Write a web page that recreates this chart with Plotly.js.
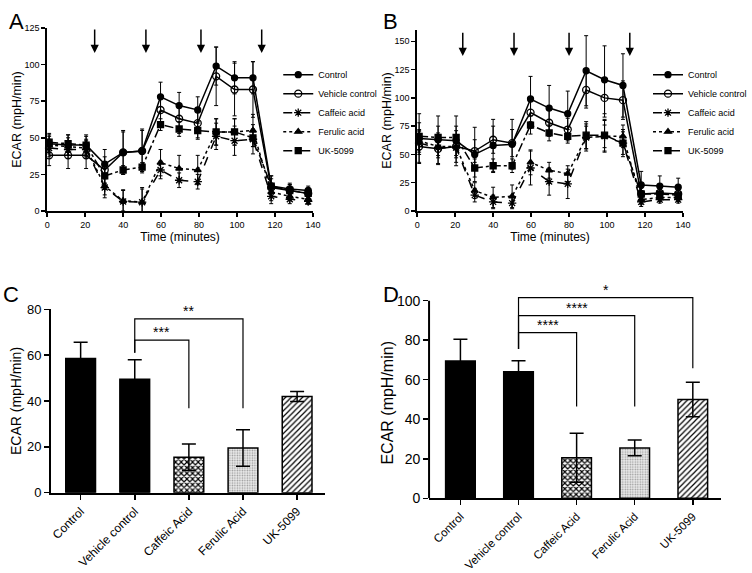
<!DOCTYPE html>
<html><head><meta charset="utf-8">
<script src="https://cdn.plot.ly/plotly-3.0.1.min.js"></script>
<style>html,body{margin:0;padding:0;background:#fff}#chart{width:752px;height:573px}</style>
</head><body><div id="chart"></div>
<script>
// ---------- data ----------
const timeMin = [1, 11, 20.5, 30.3, 40, 50, 59.7, 69.5, 79.3, 89, 98.7, 108.4, 118, 127.8, 137.5];
const seriesNames = ['Control', 'Vehicle control', 'Caffeic acid', 'Ferulic acid', 'UK-5099'];

// Panel A (ECAR, mpH/min)
const aControl    = [46, 45, 45, 32, 40, 41, 78, 72, 69, 99, 91, 91, 17, 15, 14];
const aControlErr = [6, 7, 7, 10, 15, 15, 10, 9, 9, 13, 11, 11, 7, 4, 3];
const aVehicle    = [38, 38, 38, 28, 40, 41, 69, 63, 60, 92, 83, 83, 16, 14, 12];
const aVehicleErr = [7, 9, 9, 9, 14, 14, 10, 10, 10, 20, 18, 19, 6, 4, 3];
const aCaffeic    = [43, 42, 42, 16, 6.5, 6, 28, 21, 20, 51, 48, 49, 10, 8, 6.5];
const aCaffeicErr = [6, 6, 6, 7, 8, 10, 6, 5, 5, 9, 10, 10, 5, 3, 2];
const aFerulic    = [45, 44, 43, 17, 7, 6, 33, 29, 28, 54, 54, 55, 13, 10, 8];
const aFerulicErr = [6, 6, 6, 6, 7, 9, 9, 9, 10, 9, 9, 11, 6, 3, 2];
const aUK         = [47, 46, 45, 24, 28, 30, 59, 56, 55, 54, 54, 50, 17, 14, 12];
const aUKErr      = [6, 6, 6, 5, 3, 3, 4, 5, 6, 9, 9, 6, 7, 4, 3];

// Panel B
const bControl    = [64, 63, 62, 50, 58, 59, 99, 91, 86, 124, 116, 111, 23, 22, 21];
const bControlErr = [22, 21, 22, 24, 23, 22, 20, 20, 20, 31, 30, 28, 12, 9, 8];
const bVehicle    = [57, 55, 57, 53, 63, 60, 87, 78, 72, 107, 100, 98, 15, 16, 15];
const bVehicleErr = [14, 14, 14, 10, 12, 12, 14, 12, 10, 16, 17, 17, 8, 6, 6];
const bCaffeic    = [60, 56, 56, 14, 8, 7, 38, 26, 24, 65, 66, 60, 8, 10, 10];
const bCaffeicErr = [10, 9, 9, 6, 6, 5, 15, 12, 13, 12, 14, 10, 4, 3, 3];
const bFerulic    = [62, 57, 57, 18, 12, 13, 43, 36, 33, 65, 66, 66, 10, 12, 12];
const bFerulicErr = [10, 8, 8, 7, 9, 10, 11, 7, 7, 10, 10, 10, 4, 3, 3];
const bUK         = [66, 65, 65, 38, 40, 40, 76, 69, 66, 67, 67, 60, 15, 15, 14];
const bUKErr      = [12, 10, 10, 8, 6, 6, 8, 7, 6, 12, 14, 12, 5, 4, 4];

// injection arrows
const injTimesA = [25, 52, 81, 113];
const injTimesB = [24, 51, 80, 112];
const arrowA = [125, 108];   // tail, head (y values)
const arrowB = [159, 137];

// Panels C & D (bar charts)
const barCategories = ['Control', 'Vehicle control', 'Caffeic Acid', 'Ferulic Acid', 'UK-5099'];
const cMeans = [58.5, 49.5, 15.5, 19.5, 42];
const cErr   = [7.1, 8.5, 5.8, 8, 2.2];
const dMeans = [69.5, 64, 20.5, 25.5, 50];
const dErr   = [11, 5.6, 12.4, 4.0, 8.7];

// significance brackets
const cBrFrom = [1, 1], cBrTo = [2, 3], cBrLevel = [66.6, 75.8], cBrFromEnd = [61, 61], cBrToEnd = [36.8, 36.8], cBrLabel = ['***', '**'];
const dBrFrom = [1, 1, 1], dBrTo = [2, 3, 4], dBrLevel = [83.8, 92.4, 101.5], dBrFromEnd = [75.5, 75.5, 75.5], dBrToEnd = [46.4, 46.4, 65.8], dBrLabel = ['****', '****', '*'];

// ---------- styles ----------
const FONT = 'Liberation Sans, Arial, sans-serif';
const symbols = ['circle', 'circle-open', 'asterisk-open', 'triangle-up', 'square'];
const dashes = ['solid', 'solid', 'dash', 'dot', 'dashdot'];
const msize = [6, 7, 7, 6, 6];

const aSeries = [[aControl, aControlErr], [aVehicle, aVehicleErr], [aCaffeic, aCaffeicErr], [aFerulic, aFerulicErr], [aUK, aUKErr]];
const bSeries = [[bControl, bControlErr], [bVehicle, bVehicleErr], [bCaffeic, bCaffeicErr], [bFerulic, bFerulicErr], [bUK, bUKErr]];

const traces = [];
function addLines(series, xa, ya, legendId) {
  series.forEach((s, i) => {
    traces.push({
      type: 'scatter', mode: 'lines+markers', x: timeMin, y: s[0],
      xaxis: xa, yaxis: ya, name: seriesNames[i], legend: legendId,
      line: {color: 'black', width: 1.5, dash: dashes[i]},
      marker: {symbol: symbols[i], size: msize[i], color: 'black', line: {color: 'black', width: 1.3}},
      error_y: {type: 'data', array: s[1], visible: true, color: 'black', thickness: 1, width: 2},
      cliponaxis: false
    });
  });
}
addLines(aSeries, 'x', 'y', 'legend');
addLines(bSeries, 'x2', 'y2', 'legend2');

// bar fill styles (per category)
const barFill = ['black', 'black', 'white', '#ebebeb', 'white'];
const barPatShape = ['', '', 'x', '.', '/'];
const barPatFg = ['black', 'black', 'black', '#9a9a9a', 'black'];
const barPatSize = [6, 6, 4, 2.5, 4];
const barPatSolid = [0.3, 0.3, 0.5, 0.3, 0.3];

function addBars(means, errs, xa, ya, w) {
  means.forEach((m, i) => {
    const marker = {color: barFill[i], line: {color: 'black', width: 1.5}};
    if (barPatShape[i]) {
      marker.pattern = {shape: barPatShape[i], fgcolor: barPatFg[i], bgcolor: barFill[i], fgopacity: 1,
        size: barPatSize[i], solidity: barPatSolid[i], fillmode: 'replace'};
    }
    traces.push({type: 'bar', x: [i], y: [m], xaxis: xa, yaxis: ya, width: w, showlegend: false,
      name: barCategories[i], marker: marker,
      error_y: {type: 'data', array: [errs[i]], color: 'black', thickness: 1.5, width: 7}});
  });
}
addBars(cMeans, cErr, 'x3', 'y3', 0.55);
addBars(dMeans, dErr, 'x4', 'y4', 0.51);
const barIdx = barCategories.map((c, i) => i);

// ---------- layout ----------
function lineAxis(extra) {
  return Object.assign({
    showline: true, linewidth: 2, linecolor: 'black', mirror: false,
    showgrid: false, zeroline: false, ticks: 'outside', ticklen: 4, tickwidth: 1.5, tickcolor: 'black',
    tickfont: {family: FONT, size: 9, color: 'black'}, fixedrange: true
  }, extra);
}
const layout = {
  width: 752, height: 573, margin: {l: 0, r: 0, t: 0, b: 0},
  paper_bgcolor: 'white', plot_bgcolor: 'rgba(0,0,0,0)',
  font: {family: FONT, color: 'black'},
  barmode: 'overlay',
  xaxis: lineAxis({domain: [0.0638, 0.4229], anchor: 'y', range: [0, 140], tickvals: [0, 20, 40, 60, 80, 100, 120, 140],
    title: {text: 'Time (minutes)', font: {size: 12}, standoff: 4}}),
  yaxis: lineAxis({domain: [0.6318, 0.9511], anchor: 'x', range: [0, 125], tickvals: [0, 25, 50, 75, 100, 125],
    title: {text: 'ECAR (mpH/min)', font: {size: 12.5}, standoff: 0}}),
  xaxis2: lineAxis({domain: [0.5638, 0.9229], anchor: 'y2', range: [0, 140], tickvals: [0, 20, 40, 60, 80, 100, 120, 140],
    title: {text: 'Time (minutes)', font: {size: 12}, standoff: 4}}),
  yaxis2: lineAxis({domain: [0.6318, 0.9476], anchor: 'x2', range: [0, 160], tickvals: [0, 25, 50, 75, 100, 125, 150],
    title: {text: 'ECAR (mpH/min)', font: {size: 12.5}, standoff: 0}}),
  xaxis3: lineAxis({domain: [0.0691, 0.4388], anchor: 'y3', range: [-0.545, 4.51], tickvals: barIdx, ticktext: barCategories,
    tickangle: -45, ticklen: 5, tickfont: {family: FONT, size: 12, color: 'black'}}),
  yaxis3: lineAxis({domain: [0.1401, 0.4602], anchor: 'x3', range: [0, 80], tickvals: [0, 20, 40, 60, 80], ticklen: 5,
    tickfont: {family: FONT, size: 13, color: 'black'},
    title: {text: 'ECAR (mpH/min)', font: {size: 14}, standoff: 2}}),
  xaxis4: lineAxis({domain: [0.5798, 0.9747], anchor: 'y4', range: [-0.54, 4.49], tickvals: barIdx, ticktext: barCategories,
    tickangle: -45, ticklen: 5, tickfont: {family: FONT, size: 11.5, color: 'black'}}),
  yaxis4: lineAxis({domain: [0.1304, 0.4925], anchor: 'x4', range: [0, 105], tickvals: [0, 20, 40, 60, 80, 100], ticklen: 5,
    showline: false, tickfont: {family: FONT, size: 14, color: 'black'}}),
  legend: {x: 0.376, y: 0.895, xanchor: 'left', yanchor: 'top', bgcolor: 'rgba(0,0,0,0)', font: {size: 9}, itemwidth: 30, tracegroupgap: 0},
  legend2: {x: 0.876, y: 0.895, xanchor: 'left', yanchor: 'top', bgcolor: 'rgba(0,0,0,0)', font: {size: 9}, itemwidth: 30, tracegroupgap: 0},
  shapes: [],
  annotations: []
};

// D y-axis line only up to 100, and its title
layout.shapes.push({type: 'line', xref: 'x4 domain', yref: 'y4', x0: 0, x1: 0, y0: 0, y1: 100, line: {color: 'black', width: 2}});
layout.annotations.push({xref: 'paper', yref: 'paper', x: 0.524, y: 0.297, text: 'ECAR (mpH/min)', textangle: -90,
  showarrow: false, xanchor: 'center', yanchor: 'middle', font: {size: 16, color: 'black'}});

function addBrackets(xa, ya, from, to, level, fromEnd, toEnd, labels) {
  from.forEach((f, i) => {
    layout.shapes.push({type: 'path', xref: xa, yref: ya,
      path: `M ${f},${fromEnd[i]} L ${f},${level[i]} L ${to[i]},${level[i]} L ${to[i]},${toEnd[i]}`,
      line: {color: 'black', width: 1.2}});
    layout.annotations.push({xref: xa, yref: ya, x: (f + to[i]) / 2, y: level[i], text: labels[i], showarrow: false,
      yanchor: 'bottom', yshift: -2, font: {size: 14, color: 'black'}});
  });
}
addBrackets('x3', 'y3', cBrFrom, cBrTo, cBrLevel, cBrFromEnd, cBrToEnd, cBrLabel);
addBrackets('x4', 'y4', dBrFrom, dBrTo, dBrLevel, dBrFromEnd, dBrToEnd, dBrLabel);

function addArrows(xa, ya, times, ys) {
  times.forEach(t => {
    layout.annotations.push({xref: xa, yref: ya, axref: xa, ayref: ya, x: t, y: ys[1], ax: t, ay: ys[0],
      text: '', showarrow: true, arrowhead: 2, arrowsize: 1.1, arrowwidth: 1.5, arrowcolor: 'black'});
  });
}
addArrows('x', 'y', injTimesA, arrowA);
addArrows('x2', 'y2', injTimesB, arrowB);

// panel letters
[['A', 0.010, 0.988], ['B', 0.515, 0.988], ['C', 0.002, 0.512], ['D', 0.515, 0.512]].forEach(p => {
  layout.annotations.push({xref: 'paper', yref: 'paper', x: p[1], y: p[2], text: p[0], showarrow: false,
    xanchor: 'left', yanchor: 'top', font: {size: 22, color: 'black'}});
});

Plotly.newPlot('chart', traces, layout, {staticPlot: true, displayModeBar: false});
</script>
</body></html>
